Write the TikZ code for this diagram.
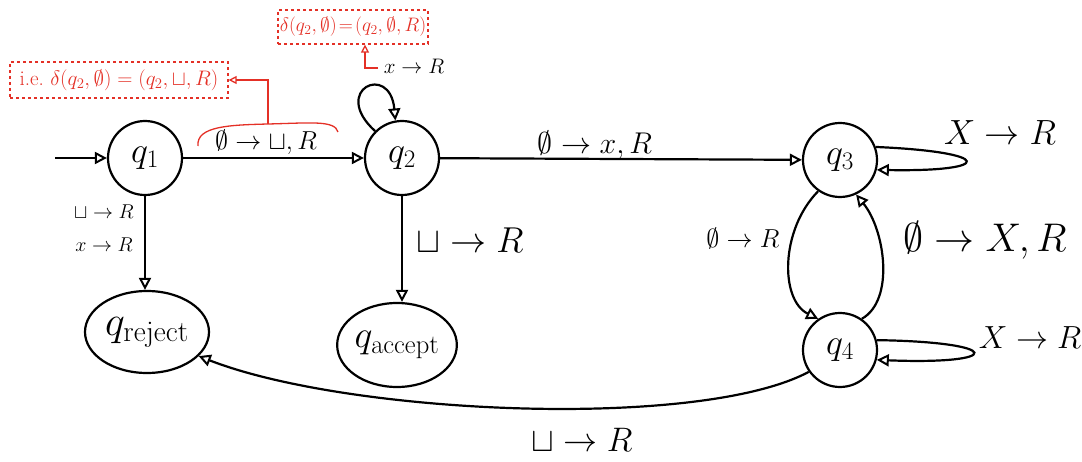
\RequirePackage{fix-cm}
\documentclass[tikz,border=0pt]{standalone}
\usetikzlibrary{arrows.meta,shapes.geometric}
\definecolor{annot}{RGB}{228,48,38}
\begin{document}
\begin{tikzpicture}[x=1pt,y=-1pt,
  st/.style={circle,draw,line width=2.2pt,minimum size=74pt,inner sep=0pt,font=\fontsize{36}{40}\selectfont},
  el/.style={ellipse,draw,line width=2.2pt,inner sep=0pt,font=\fontsize{#1}{#1}\selectfont},
  ed/.style={line width=2.2pt,-{Triangle[open,length=12pt,width=12pt,line width=2pt]}},
  lb/.style={font=\fontsize{#1}{#1}\selectfont,inner sep=0pt},
  rbox/.style={draw=annot,dashed,line width=1.2pt,text=annot,inner sep=0pt,minimum height=#1},
  rln/.style={draw=annot,line width=1.3pt},
  rarr/.style={rln,-{Triangle[open,length=8pt,width=8pt,line width=1.3pt]}}
]
\useasboundingbox (0,0) rectangle (1082,462);
\node[st] (q1) at (145,158) {$q_1$};
\node[st] (q2) at (402,158) {$q_2$};
\node[st] (q3) at (840,160) {$q_3$};
\node[st] (q4) at (840,350) {$q_4$};
\node[el=42,minimum width=124pt,minimum height=82pt] (qr) at (147,332) {$q_{\mathrm{reject}}$};
\node[el=38,minimum width=100pt,minimum height=84pt] (qa) at (397,345) {$q_{\mathrm{accept}}$};
\coordinate (s) at (55,158);
\draw[ed] (s) -- (q1);
\draw[ed] (q1) -- (q2);
\draw[ed] (q2.135) .. controls (330,90) and (390,62) .. (q2.100);
\draw[ed] (q2) -- (q3);
\draw[ed] (q2) -- (q2 |- qa.north);
\draw[ed] (q1) -- (q1 |- qr.north);
\draw[ed] (q3.20) .. controls (995,152) and (995,172) .. (q3.-15);
\draw[ed] (q4.15) .. controls (1005,342) and (1005,365) .. (q4.-15);
\draw[ed] (q3.235) .. controls (780,230) and (780,300) .. (q4.125);
\draw[ed] (q4.55) .. controls (895,300) and (885,230) .. (q3.295);
\draw[ed] (q4.215) .. controls (700,430) and (350,415) .. (qr.-25);
% labels
\node[lb=26] (l12) at (266,142) {$\emptyset\to\sqcup,R$};
\node[lb=21] (l22) at (414,66) {$x\to R$};
\node[lb=30] (l23) at (595,145) {$\emptyset\to x,R$};
\node[lb=36] (l2a) at (470,240) {$\sqcup\to R$};
\node[lb=20] (l1a) at (104,212) {$\sqcup\to R$};
\node[lb=20] (l1b) at (104,245) {$x\to R$};
\node[lb=35] (l33) at (1000,133) {$X\to R$};
\node[lb=26] (l34) at (743,238) {$\emptyset\to R$};
\node[lb=40] (l43) at (985,240) {$\emptyset\to X,R$};
\node[lb=32] (l44) at (1030,338) {$X\to R$};
\node[lb=34] (l4r) at (582,440) {$\sqcup\to R$};
% red annotations
\node[rbox=36pt,minimum width=218pt,font=\fontsize{21}{24}\selectfont] (b1) at (119,80) {i.e.\ $\delta(q_2,\emptyset)=(q_2,\sqcup,R)$};
\node[rbox=34pt,minimum width=150pt,font=\fontsize{19.5}{22}\selectfont] (b2) at (353,27) {$\delta(q_2,\emptyset)\!=\!(q_2,\emptyset,R)$};
\coordinate (br) at (268,124);
\draw[rln] (198,146) .. controls (196,126) and (230,125) .. (br) .. controls (310,123) and (335,120) .. (338,132);
\draw[rarr] (br) |- (b1);
\coordinate (x2) at (378,68);
\draw[rarr] (x2) -| ([xshift=12pt]b2.south);
\end{tikzpicture}
\end{document}
